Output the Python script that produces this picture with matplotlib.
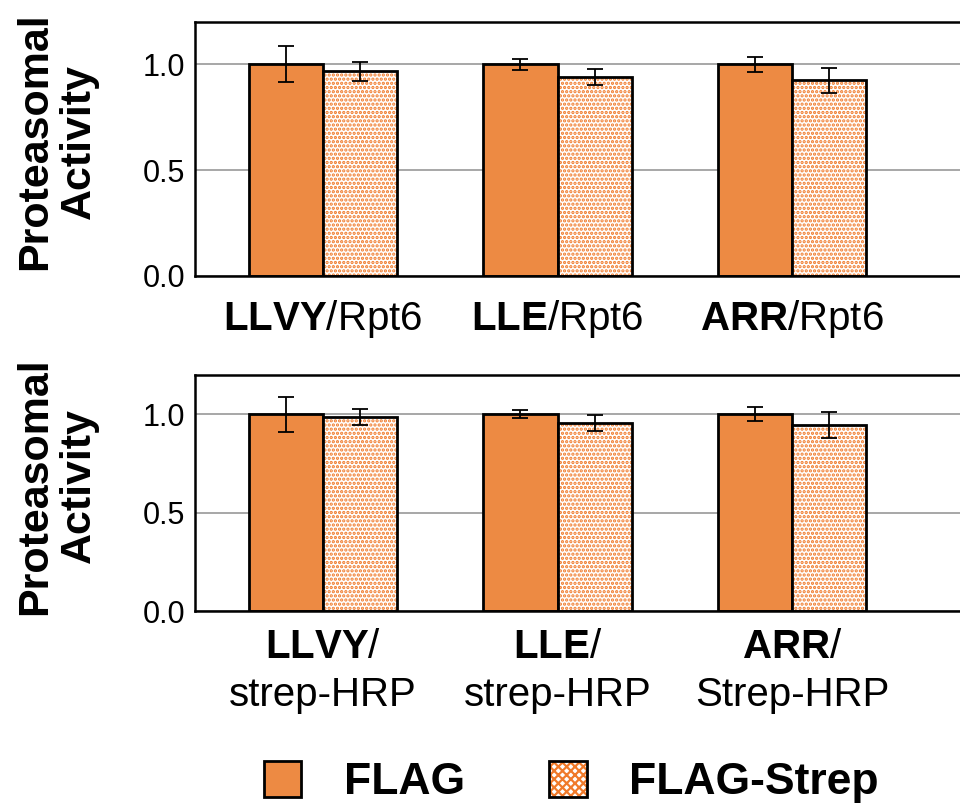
import matplotlib.pyplot as plt
from matplotlib.patches import Patch
from matplotlib.legend_handler import HandlerTuple
import numpy as np

plt.rcParams['font.family'] = ['Liberation Sans', 'DejaVu Sans']
plt.rcParams['mathtext.fontset'] = 'custom'
plt.rcParams['mathtext.rm'] = 'Liberation Sans'
plt.rcParams['mathtext.bf'] = 'Liberation Sans:bold'
plt.rcParams['hatch.linewidth'] = 1.6

# top panel (Rpt6)
top_labels = [r'$\mathbf{LLVY}$/Rpt6', r'$\mathbf{LLE}$/Rpt6', r'$\mathbf{ARR}$/Rpt6']
top_flag = [1.0, 1.0, 1.0]
top_flag_err = [0.085, 0.025, 0.035]
top_strep = [0.967, 0.94, 0.925]
top_strep_err = [0.045, 0.04, 0.06]

# bottom panel (strep-HRP)
bot_labels = [r'$\mathbf{LLVY}$/' + '\nstrep-HRP', r'$\mathbf{LLE}$/' + '\nstrep-HRP',
              r'$\mathbf{ARR}$/' + '\nStrep-HRP']
bot_flag = [1.0, 1.0, 1.0]
bot_flag_err = [0.09, 0.02, 0.035]
bot_strep = [0.985, 0.955, 0.945]
bot_strep_err = [0.04, 0.04, 0.065]

orange = '#ED8A43'
hatch_orange = '#F07A2A'
w = 0.316

fig = plt.figure(figsize=(9.6, 8.06), dpi=100)
ax1 = fig.add_axes([0.203, 0.6576, 0.797, 0.3151])
ax2 = fig.add_axes([0.203, 0.2419, 0.797, 0.2928])


def draw(ax, flag, flag_err, strep, strep_err, labels, xpad, lspace):
    x = np.arange(len(flag))
    ax.bar(x - w / 2, flag, w, color=orange, edgecolor='black', linewidth=2, zorder=2)
    ax.bar(x + w / 2, strep, w, color='white', edgecolor=hatch_orange, hatch='....', linewidth=0, zorder=2)
    ax.bar(x + w / 2, strep, w, color='none', edgecolor='black', linewidth=2, zorder=3)
    ax.errorbar(x - w / 2, flag, yerr=flag_err, fmt='none', ecolor='black', elinewidth=1.3,
                capsize=6, capthick=1.3, zorder=4)
    ax.errorbar(x + w / 2, strep, yerr=strep_err, fmt='none', ecolor='black', elinewidth=1.3,
                capsize=6, capthick=1.3, zorder=4)
    ax.set_xlim(-0.546, 2.716)
    ax.set_ylim(0, 1.2)
    ax.set_yticks([0.0, 0.5, 1.0])
    ax.set_yticklabels(['0.0', '0.5', '1.0'], fontsize=22)
    ax.yaxis.grid(True, color='#a0a0a0', linewidth=1.3, zorder=0)
    ax.set_axisbelow(True)
    ax.set_xticks(x)
    ax.set_xticklabels(labels, fontsize=29, linespacing=lspace)
    ax.tick_params(axis='y', length=0, pad=7)
    ax.tick_params(axis='x', length=0, pad=xpad)
    ax.spines['right'].set_visible(False)
    for s in ['top', 'left', 'bottom']:
        ax.spines[s].set_linewidth(1.8)
    ax.set_ylabel('Proteasomal\nActivity', fontsize=31, fontweight='bold', linespacing=1.1)
    ax.yaxis.set_label_coords(-0.126, 0.53)


draw(ax1, top_flag, top_flag_err, top_strep, top_strep_err, top_labels, 16, 1.05)
draw(ax2, bot_flag, bot_flag_err, bot_strep, bot_strep_err, bot_labels, 12, 1.35)

flag_patch = Patch(facecolor=orange, edgecolor='black', linewidth=2)
strep_fill = Patch(facecolor='white', edgecolor=hatch_orange, hatch='xxxx', linewidth=0)
strep_edge = Patch(facecolor='none', edgecolor='black', linewidth=2)
leg = fig.legend([flag_patch, (strep_fill, strep_edge)], ['FLAG', 'FLAG-Strep'],
                 handler_map={tuple: HandlerTuple(ndivide=1)},
                 loc='center', bbox_to_anchor=(0.595, 0.03), ncol=2,
                 frameon=False, handlelength=0.85, handleheight=0.87, columnspacing=1.9,
                 handletextpad=0.95, prop={'size': 32, 'weight': 'bold'})
fig.savefig('out.png', dpi=100)
